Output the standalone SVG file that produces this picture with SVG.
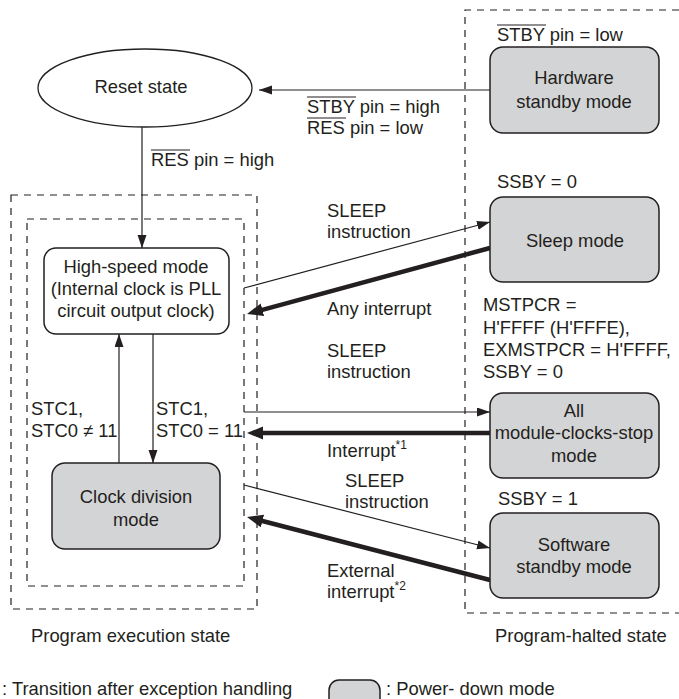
<svg xmlns="http://www.w3.org/2000/svg" width="679" height="699" viewBox="0 0 679 699">
<style>
text{font-family:"Liberation Sans",Arial,sans-serif;font-size:18.4px;fill:#231f20}
.m{text-anchor:middle}
.sup{font-size:12px}
.box{fill:#d3d4d5;stroke:#231f20;stroke-width:1.5}
.wbox{fill:#fff;stroke:#231f20;stroke-width:1.5}
.dash{fill:none;stroke:#231f20;stroke-width:1.2;stroke-dasharray:7 6}
.thin{fill:none;stroke:#231f20;stroke-width:1.2;marker-end:url(#ah)}
.thick{fill:none;stroke:#231f20;stroke-width:4.5;marker-end:url(#ahb)}
.ov{stroke:#231f20;stroke-width:1.2}
</style>
<defs>
<marker id="ah" markerUnits="userSpaceOnUse" markerWidth="14" markerHeight="10" refX="13" refY="4.5" orient="auto">
<path d="M0,0 L13,4.5 L0,9 z" fill="#231f20"/>
</marker>
<marker id="ahb" markerUnits="userSpaceOnUse" markerWidth="18" markerHeight="14" refX="4" refY="6.5" orient="auto">
<path d="M0,0 L16,6.5 L0,13 z" fill="#231f20"/>
</marker>
</defs>
<rect width="679" height="699" fill="#fff"/>

<g id="regions">
<rect class="dash" x="11" y="195" width="246" height="414"/>
<rect class="dash" x="27" y="219" width="217" height="367"/>
<path class="dash" d="M679 10 H465 V613 H679"/>
<text x="31" y="642">Program execution state</text>
<text x="495" y="642">Program-halted state</text>
</g>

<g id="connectors">
<line class="thin" x1="490" y1="90" x2="259" y2="90"/>
<line class="thin" x1="142" y1="127" x2="142" y2="248"/>
<line class="thin" x1="119" y1="463" x2="119" y2="334"/>
<line class="thin" x1="153" y1="334" x2="153" y2="463"/>
<line class="thin" x1="244" y1="288" x2="490" y2="222"/>
<line class="thick" x1="490" y1="248" x2="258.6" y2="310.8"/>
<line class="thin" x1="244" y1="412" x2="490" y2="412"/>
<line class="thick" x1="490" y1="433" x2="259" y2="433"/>
<line class="thin" x1="244" y1="485" x2="490" y2="548"/>
<line class="thick" x1="490" y1="580" x2="258.6" y2="520"/>
</g>

<g id="labels">
<text x="307" y="113">STBY pin = high</text>
<line class="ov" x1="307" y1="97" x2="356" y2="97"/>
<text x="307" y="134">RES pin = low</text>
<line class="ov" x1="307" y1="118" x2="346" y2="118"/>
<text x="151" y="166">RES pin = high</text>
<line class="ov" x1="151" y1="150" x2="190" y2="150"/>
<text x="497" y="41">STBY pin = low</text>
<line class="ov" x1="497" y1="25" x2="546" y2="25"/>
<text x="497" y="188">SSBY = 0</text>
<text x="327" y="217">SLEEP</text>
<text x="327" y="238">instruction</text>
<text x="327" y="315">Any interrupt</text>
<text x="483" y="311">MSTPCR =</text>
<text x="483" y="334">H'FFFF (H'FFFE),</text>
<text x="483" y="356">EXMSTPCR = H'FFFF,</text>
<text x="483" y="378">SSBY = 0</text>
<text x="327" y="357">SLEEP</text>
<text x="327" y="378">instruction</text>
<text x="327" y="457">Interrupt<tspan class="sup" dy="-8">*1</tspan></text>
<text x="345" y="487">SLEEP</text>
<text x="345" y="508">instruction</text>
<text x="498" y="505">SSBY = 1</text>
<text x="327" y="577">External</text>
<text x="327" y="598">interrupt<tspan class="sup" dy="-8">*2</tspan></text>
<text x="31" y="415">STC1,</text>
<text x="31" y="437">STC0 ≠ 11</text>
<text x="156" y="415">STC1,</text>
<text x="156" y="437">STC0 = 11</text>
</g>

<g id="reset">
<ellipse cx="145" cy="88" rx="107" ry="39" fill="#fff" stroke="#231f20" stroke-width="1.3"/>
<text class="m" x="141" y="93">Reset state</text>
</g>

<g id="hardware-standby">
<rect class="box" x="490" y="47" width="169" height="86" rx="13"/>
<text class="m" x="574" y="84">Hardware</text>
<text class="m" x="574" y="108">standby mode</text>
</g>

<g id="sleep">
<rect class="box" x="490" y="197" width="169" height="85" rx="13"/>
<text class="m" x="575" y="247">Sleep mode</text>
</g>

<g id="all-module-clocks-stop">
<rect class="box" x="490" y="393" width="169" height="85" rx="13"/>
<text class="m" x="574" y="417">All</text>
<text class="m" x="574" y="439">module-clocks-stop</text>
<text class="m" x="574" y="462">mode</text>
</g>

<g id="software-standby">
<rect class="box" x="490" y="513" width="169" height="85" rx="13"/>
<text class="m" x="574" y="551">Software</text>
<text class="m" x="574" y="573">standby mode</text>
</g>

<g id="high-speed">
<rect class="wbox" x="44" y="248" width="185" height="86" rx="12"/>
<text class="m" x="136" y="273">High-speed mode</text>
<text class="m" x="136" y="295">(Internal clock is PLL</text>
<text class="m" x="136" y="317">circuit output clock)</text>
</g>

<g id="clock-division">
<rect class="box" x="52" y="463" width="168" height="86" rx="13"/>
<text class="m" x="136" y="503">Clock division</text>
<text class="m" x="136" y="526">mode</text>
</g>

<g id="legend">
<text x="2" y="695">: Transition after exception handling</text>
<rect class="box" x="329" y="680" width="51" height="30" rx="10"/>
<text x="386" y="695">: Power- down mode</text>
</g>
</svg>
